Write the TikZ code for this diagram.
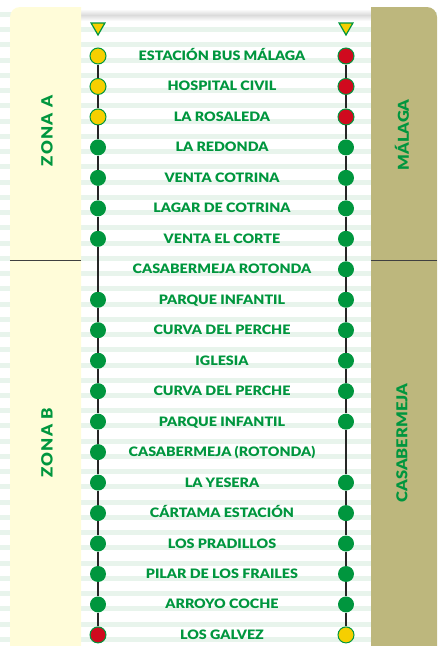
\documentclass[tikz,border=0pt]{standalone}
\usepackage{fontspec}
\setmainfont{Lato}[BoldFont={Lato Black}, BoldFeatures={FakeStretch=1.1}]
\usetikzlibrary{positioning,shapes.geometric}

\definecolor{routegreen}{RGB}{0,150,62}
\definecolor{stopyellow}{RGB}{246,207,0}
\definecolor{stopred}{RGB}{208,10,30}
\definecolor{zonepale}{RGB}{255,252,217}
\definecolor{zoneolive}{RGB}{189,183,125}
\definecolor{stripe}{RGB}{232,244,236}

\begin{document}
\begin{tikzpicture}[x=1pt,y=-1pt,
      station/.style={font=\bfseries\fontsize{13}{15}\selectfont, text=routegreen,
         inner sep=0pt, text height=9pt, text depth=0pt},
      zone/.style={font=\bfseries\fontsize{15}{17}\selectfont, text=routegreen,
         inner sep=0pt, rotate=90},
      widezone/.style={zone, font=\bfseries\fontsize{15.5}{17}\selectfont\addfontfeature{LetterSpace=8}},
      gstop/.style={circle, fill=routegreen, minimum size=16pt, inner sep=0pt},
      ystop/.style={gstop, fill=stopyellow, draw=routegreen, line width=1pt},
      rstop/.style={gstop, fill=stopred, draw=routegreen, line width=1pt},
      nostop/.style={coordinate},
      startmark/.style={regular polygon, regular polygon sides=3, shape border rotate=180,
         fill=stopyellow, draw=routegreen, line width=1.2pt, minimum size=16pt, inner sep=0pt},
      rail/.style={draw=black!85, line width=1.4pt},
      divider/.style={draw=black!75, line width=1pt}
   ]
      \useasboundingbox (0,0) rectangle (437,646);

      % background stripes
      \foreach \k in {0,...,41}
         \fill[stripe] (0,{12+\k*15.24}) rectangle (437,{17+\k*15.24});
      \shade[top color=white, bottom color=white, middle color=black!14] (81,9) rectangle (371,21);

      % zone panels
      \fill[zonepale] (10,646) -- (10,17) arc[start angle=180, end angle=270, radius=10]
         -- (81,7) -- (81,646) -- cycle;
      \fill[zoneolive] (371,646) -- (371,7) -- (427,7)
         arc[start angle=270, end angle=360, radius=10] -- (437,646) -- cycle;
      \draw[divider] (10,260) -- (81,260);
      \draw[divider] (371,260) -- (437,260);

      \node[widezone] (zoneA) at (47,131) {ZONA A};
      \node[widezone] (zoneB) at (47,443) {ZONA B};
      \node[zone] (malaga) at (402,135) {MÁLAGA};
      \node[zone] (casabermeja) at (402,443) {CASABERMEJA};

      % stops
      \foreach \i/\name/\lk/\rk in {
            1/ESTACIÓN BUS MÁLAGA/ystop/rstop,
            2/HOSPITAL CIVIL/ystop/rstop,
            3/LA ROSALEDA/ystop/rstop,
            4/LA REDONDA/gstop/gstop,
            5/VENTA COTRINA/gstop/gstop,
            6/LAGAR DE COTRINA/gstop/gstop,
            7/VENTA EL CORTE/gstop/gstop,
            8/CASABERMEJA ROTONDA/nostop/gstop,
            9/PARQUE INFANTIL/gstop/gstop,
            10/CURVA DEL PERCHE/gstop/gstop,
            11/IGLESIA/gstop/gstop,
            12/CURVA DEL PERCHE/gstop/gstop,
            13/PARQUE INFANTIL/gstop/gstop,
            14/CASABERMEJA (ROTONDA)/gstop/nostop,
            15/LA YESERA/gstop/gstop,
            16/CÁRTAMA ESTACIÓN/gstop/gstop,
            17/LOS PRADILLOS/gstop/gstop,
            18/PILAR DE LOS FRAILES/gstop/gstop,
            19/ARROYO COCHE/gstop/gstop,
            20/LOS GALVEZ/rstop/ystop} {
         \node[\lk] (l\i) at (98,{56+(\i-1)*30.47}) {};
         \node[\rk] (r\i) at (346,{56+(\i-1)*30.47}) {};
         \node[station] (s\i) at (222,{56+(\i-1)*30.47}) {\name};
      }

      \node[startmark] (lstart) at (98,27) {};
      \node[startmark] (rstart) at (346,27) {};

      \foreach \i [count=\j from 2] in {1,...,19} {
         \draw[rail] (l\i) -- (l\j);
         \draw[rail] (r\i) -- (r\j);
      }
   \end{tikzpicture}
\end{document}
